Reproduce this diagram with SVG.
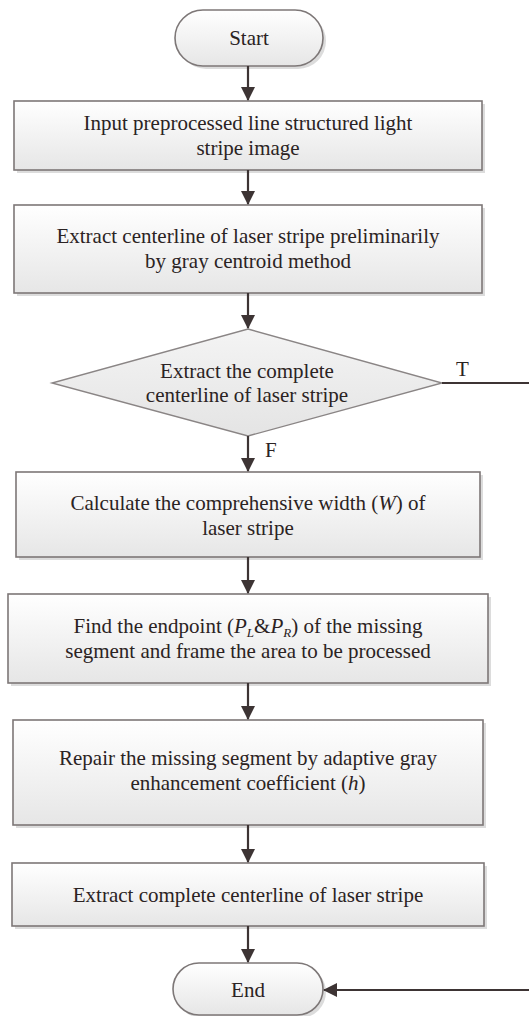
<svg xmlns="http://www.w3.org/2000/svg" width="529" height="1016" viewBox="0 0 529 1016">
<defs>
<linearGradient id="gBox" x1="0" y1="0" x2="0" y2="1">
<stop offset="0" stop-color="#ffffff"/>
<stop offset="1" stop-color="#e6e6e6"/>
</linearGradient>
<linearGradient id="gDia" x1="0" y1="0" x2="0" y2="1">
<stop offset="0" stop-color="#f4f4f4"/>
<stop offset="1" stop-color="#e4e4e4"/>
</linearGradient>
<marker id="arr" viewBox="0 0 14 14" refX="13" refY="7" markerWidth="14" markerHeight="14" markerUnits="userSpaceOnUse" orient="auto">
<path d="M0,0 L14,7 L0,14 Z" fill="#3d3434"/>
</marker>
</defs>
<style>
.box{fill:url(#gBox);stroke:#7d7777;stroke-width:1.6}
.shadow{fill:#dcdcdc}
.dia{fill:url(#gDia);stroke:#8a8585;stroke-width:1.4}
.t{font-family:"Liberation Serif","Times New Roman",serif;font-size:21px;fill:#2b2323;text-anchor:middle}
.lab{font-family:"Liberation Serif","Times New Roman",serif;font-size:21px;fill:#2b2323}
.i{font-style:italic}
.c{fill:none;stroke:#3d3434;stroke-width:2.2}
</style>
<g id="start">
<rect x="178" y="13" width="148" height="56" rx="28" class="shadow"/>
<rect x="175" y="10" width="148" height="56" rx="28" class="box"/>
<text x="249" y="45" class="t">Start</text>
</g>
<g id="n1">
<rect x="17" y="104" width="468" height="69" class="shadow"/>
<rect x="14" y="101" width="468" height="69" class="box"/>
<text x="248" y="130" class="t">Input preprocessed line structured light</text>
<text x="248" y="155" class="t">stripe image</text>
</g>
<g id="n2">
<rect x="17" y="208" width="468" height="88" class="shadow"/>
<rect x="14" y="205" width="468" height="88" class="box"/>
<text x="248" y="243" class="t">Extract centerline of laser stripe preliminarily</text>
<text x="248" y="268" class="t">by gray centroid method</text>
</g>
<g id="d1">
<polygon points="248,329 442,383 248,436 52,383" class="dia"/>
<text x="247" y="378" class="t">Extract the complete</text>
<text x="247" y="402" class="t">centerline of laser stripe</text>
</g>
<g id="n3">
<rect x="19" y="475" width="464" height="85" class="shadow"/>
<rect x="16" y="472" width="464" height="85" class="box"/>
<text x="248" y="510" class="t">Calculate the comprehensive width (<tspan class="i">W</tspan>) of</text>
<text x="248" y="535" class="t">laser stripe</text>
</g>
<g id="n4">
<rect x="11" y="597" width="480" height="89" class="shadow"/>
<rect x="8" y="594" width="480" height="89" class="box"/>
<text x="248" y="633" class="t">Find the endpoint (<tspan class="i">P</tspan><tspan class="i" font-size="13" dy="4">L</tspan><tspan dy="-4">&amp;</tspan><tspan class="i">P</tspan><tspan class="i" font-size="13" dy="4">R</tspan><tspan dy="-4">) of the missing</tspan></text>
<text x="248" y="658" class="t">segment and frame the area to be processed</text>
</g>
<g id="n5">
<rect x="16" y="723" width="470" height="105" class="shadow"/>
<rect x="13" y="720" width="470" height="105" class="box"/>
<text x="248" y="765" class="t">Repair the missing segment by adaptive gray</text>
<text x="248" y="790" class="t">enhancement coefficient (<tspan class="i">h</tspan>)</text>
</g>
<g id="n6">
<rect x="15" y="866" width="472" height="63" class="shadow"/>
<rect x="12" y="863" width="472" height="63" class="box"/>
<text x="248" y="902" class="t">Extract complete centerline of laser stripe</text>
</g>
<g id="end">
<rect x="176" y="966" width="150" height="52" rx="26" class="shadow"/>
<rect x="173" y="963" width="150" height="52" rx="26" class="box"/>
<text x="248" y="997" class="t">End</text>
</g>
<g id="connectors">
<line x1="248" y1="66" x2="248" y2="100" class="c" marker-end="url(#arr)"/>
<line x1="248" y1="170" x2="248" y2="204" class="c" marker-end="url(#arr)"/>
<line x1="248" y1="293" x2="248" y2="328" class="c" marker-end="url(#arr)"/>
<line x1="248" y1="436" x2="248" y2="471" class="c" marker-end="url(#arr)"/>
<line x1="248" y1="557" x2="248" y2="593" class="c" marker-end="url(#arr)"/>
<line x1="248" y1="683" x2="248" y2="719" class="c" marker-end="url(#arr)"/>
<line x1="248" y1="825" x2="248" y2="862" class="c" marker-end="url(#arr)"/>
<line x1="248" y1="926" x2="248" y2="962" class="c" marker-end="url(#arr)"/>
<path d="M442,383 H531 V990 H324" class="c" marker-end="url(#arr)"/>
<text x="456" y="376" class="lab">T</text>
<text x="265" y="457" class="lab">F</text>
</g>
</svg>
